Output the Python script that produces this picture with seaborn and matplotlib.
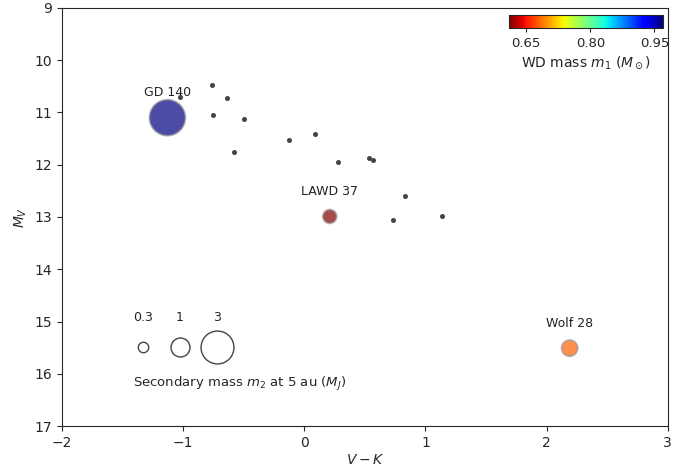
import matplotlib
matplotlib.use("Agg")
import matplotlib.pyplot as plt
import seaborn as sns
import numpy as np
import pandas as pd
from matplotlib.lines import Line2D
from matplotlib.offsetbox import VPacker
from matplotlib.cm import ScalarMappable
from matplotlib.colors import Normalize

# Field white dwarfs (small dots)
field_vk = [-0.76, -1.03, -0.64, -0.75, -0.50, -0.58, -0.13, 0.09, 0.28, 0.53, 0.57, 0.83, 0.73, 1.14]
field_mv = [10.48, 10.70, 10.72, 11.05, 11.12, 11.76, 11.53, 11.42, 11.94, 11.88, 11.90, 12.60, 13.05, 12.98]

# Named targets
names = ["GD 140", "LAWD 37", "Wolf 28"]
target_vk = [-1.13, 0.21, 2.19]
target_mv = [11.10, 12.99, 15.51]
wd_mass = [0.97, 0.61, 0.68]      # M_sun
sec_mass = [3.6, 0.54, 0.73]      # M_J at 5 au

legend_masses = [0.3, 1, 3]
legend_labels = ["0.3", "1", "3"]

SIZE_K = 187.0
vmin, vmax = 0.61, 0.97

sns.set_style("ticks")
plt.rcParams["font.family"] = ["DejaVu Sans"]

fig, ax = plt.subplots(figsize=(6.92, 4.68), dpi=100)
fig.subplots_adjust(left=0.0896, right=0.965, top=0.983, bottom=0.0897)

sns.scatterplot(x=field_vk, y=field_mv, color="#444444", s=13, linewidth=0, ax=ax, legend=False)

df = pd.DataFrame({"vk": target_vk, "mv": target_mv, "m1": wd_mass, "m2": sec_mass, "name": names})
sns.scatterplot(data=df, x="vk", y="mv", hue="m1", palette="jet_r", hue_norm=(vmin, vmax),
                s=np.array(sec_mass) * SIZE_K, alpha=0.7, edgecolor="#999999", linewidth=1.2,
                ax=ax, legend=False, zorder=3)

for n, x, y in zip(names, target_vk, target_mv):
    ax.annotate(n, (x, y), xytext=(0, 18), textcoords="offset points",
                ha="center", va="center", fontsize=9, color="#222222")

ax.set_xlim(-2, 3)
ax.set_ylim(17, 9)
ax.set_xticks([-2, -1, 0, 1, 2, 3])
ax.set_yticks(range(9, 18))
ax.set_xlabel("$V-K$", fontsize=10, labelpad=2)
ax.set_ylabel("$M_V$", fontsize=10)
ax.tick_params(labelsize=10)

# Colorbar inset
cax = ax.inset_axes([0.738, 0.952, 0.254, 0.031])
sm = ScalarMappable(norm=Normalize(vmin, vmax), cmap="jet_r")
cb = fig.colorbar(sm, cax=cax, orientation="horizontal", ticks=[0.65, 0.80, 0.95])
cb.ax.set_xticklabels(["0.65", "0.80", "0.95"])
cb.ax.tick_params(labelsize=9.5, length=3)
cb.set_label(r"WD mass $m_1$ ($M_\odot$)", fontsize=10, labelpad=3)

# Size legend
handles = [Line2D([], [], linestyle="none", marker="o", markersize=np.sqrt(m * SIZE_K),
                  markerfacecolor="none", markeredgecolor="#444444", markeredgewidth=1.0)
           for m in legend_masses]
leg = ax.legend(handles, legend_labels, ncol=3, frameon=False, loc="lower left",
                bbox_to_anchor=(0.109, 0.066), fontsize=9, title=r"Secondary mass $m_2$ at 5 au ($M_J$)",
                title_fontsize=9.5, handlelength=1.5, columnspacing=1.42, numpoints=1,
                alignment="left", borderaxespad=0)
for col in leg._legend_handle_box.get_children():
    new = []
    for item in col.get_children():
        h, t = item.get_children()
        new.append(VPacker(pad=0, sep=14, children=[t, h], align="center"))
    col._children = new
leg._legend_box._children = [leg._legend_handle_box, leg._legend_title_box]
leg._legend_box.sep = 17

fig.savefig("out.png", dpi=100)
